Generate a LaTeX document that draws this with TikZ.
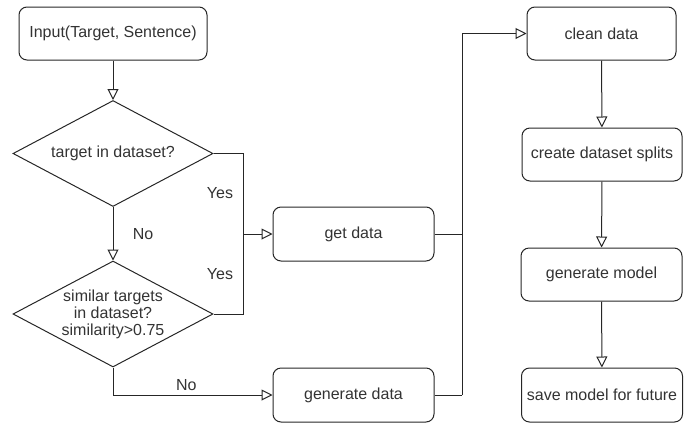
\documentclass[tikz,border=0pt]{standalone}
\usepackage{fontspec}
\setmainfont{Liberation Sans}
\usepackage{tikz}
\usetikzlibrary{arrows.meta}
\usetikzlibrary{shapes.geometric}
\usetikzlibrary{calc}

\begin{document}
\begin{tikzpicture}[x=1pt,y=-1pt,
  font=\fontsize{16}{17}\selectfont,
  every node/.style={text=black!80},
  box/.style={draw=black!85,line width=1pt,rounded corners=8pt,inner sep=0pt,minimum height=53pt},
  decision/.style={draw=black!85,line width=1pt,diamond,aspect=1.89,inner sep=0pt,minimum width=200pt,minimum height=106pt,align=center},
  flow/.style={draw=black!85,line width=1pt,-{Triangle[open,length=11pt,width=11pt]}},
  link/.style={draw=black!85,line width=1pt}]
\useasboundingbox (0,0) rectangle (691,424);
\node (input) [box,minimum width=188pt] at (113,33.5) {Input(Target, Sentence)};
\node (qtarget) [decision] at (113,153.5) {target in dataset?};
\node (qsimilar) [decision] at (113,314) {similar targets\\in dataset?\\similarity>0.75};
\node (getdata) [box,minimum width=161pt,minimum height=54pt] at (353.5,234) {get data};
\node (gendata) [box,minimum width=161pt,minimum height=54pt] at (353.5,395) {generate data};
\node (clean) [box,minimum width=149pt] at (601.5,33.5) {clean data};
\node (splits) [box,minimum width=160pt] at (602,154.5) {create dataset splits};
\node (model) [box,minimum width=161pt] at (601.5,274.5) {generate model};
\node (save) [box,minimum width=161pt,minimum height=54pt] at (602,395) {save model for future};
\coordinate (yestop) at (243,153.5);
\coordinate (yesbot) at (243,314);
\coordinate (yesmid) at (243,234);
\coordinate (bustop) at (462,33.5);
\coordinate (busmid) at (462,234);
\coordinate (busbot) at (462,395);
\draw [flow] (input) -- (qtarget);
\draw [flow] (qtarget) -- node (no1) [right=16pt] {No} (qsimilar);
\draw [link] (qtarget.east) -- (yestop) -- (yesbot) -- (qsimilar.east);
\node (yes1) at (220,193) {Yes};
\node (yes2) at (220,274) {Yes};
\draw [flow] (yesmid) -- (getdata);
\draw [flow] (qsimilar.south) |- node (no2) [pos=0.73,above=1pt] {No} (gendata);
\draw [link] (getdata) -- (busmid);
\draw [link] (gendata) -- (busbot);
\draw [flow] (busbot) -- (bustop) -- (clean);
\draw [flow] (clean) -- (splits);
\draw [flow] (splits) -- (model);
\draw [flow] (model) -- (save);
\end{tikzpicture}
\end{document}
